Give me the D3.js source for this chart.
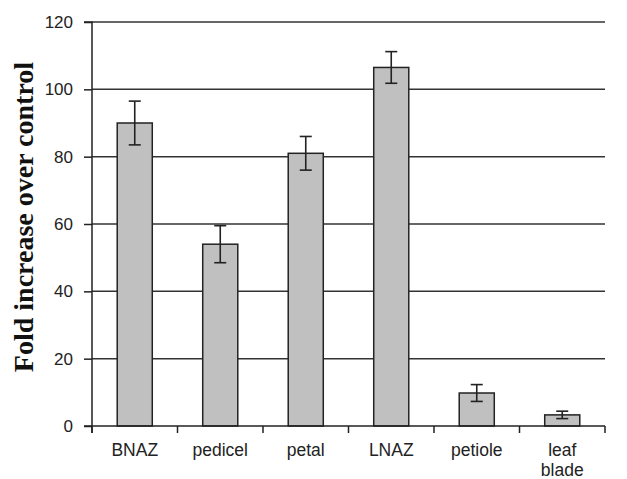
<!DOCTYPE html>
<html><head><meta charset="utf-8">
<script src="https://cdn.jsdelivr.net/npm/d3@7"></script>
<style>body{margin:0;background:#fff}svg{display:block}</style>
</head><body>
<script>
const categories = ["BNAZ", "pedicel", "petal", "LNAZ", "petiole", "leaf blade"];
const values = [90, 54, 81, 106.5, 9.8, 3.3];
const errors = [6.5, 5.5, 5, 4.7, 2.5, 1.1];
const yTicks = [0, 20, 40, 60, 80, 100, 120];
const yTitle = "Fold increase over control";

const W = 627, H = 479;
const m = {left: 92, right: 22, top: 22, bottom: 53};
const svg = d3.select("body").append("svg").attr("width", W).attr("height", H);

const x = d3.scaleBand().domain(categories).range([m.left, W - m.right]).paddingInner(0.59).paddingOuter(0.295);
const xb = d3.scaleBand().domain(categories).range([m.left, W - m.right]);
const y = d3.scaleLinear().domain([0, 120]).range([H - m.bottom, m.top]);

// gridlines
svg.append("g").selectAll("line").data(yTicks.filter(d => d > 0)).join("line")
  .attr("x1", m.left).attr("x2", W - m.right)
  .attr("y1", d => y(d)).attr("y2", d => y(d))
  .attr("stroke", "#333").attr("stroke-width", 1.5);

// bars
svg.append("g").selectAll("rect").data(categories).join("rect")
  .attr("x", d => x(d)).attr("width", x.bandwidth())
  .attr("y", (d, i) => y(values[i])).attr("height", (d, i) => y(0) - y(values[i]))
  .attr("fill", "#c0c0c0").attr("stroke", "#222").attr("stroke-width", 1.5);

// error bars
const eb = svg.append("g").attr("stroke", "#222").attr("stroke-width", 1.6);
categories.forEach((c, i) => {
  const cx = x(c) + x.bandwidth() / 2;
  eb.append("line").attr("x1", cx).attr("x2", cx).attr("y1", y(values[i] + errors[i])).attr("y2", y(values[i] - errors[i]));
  eb.append("line").attr("x1", cx - 6).attr("x2", cx + 6).attr("y1", y(values[i] + errors[i])).attr("y2", y(values[i] + errors[i]));
  eb.append("line").attr("x1", cx - 6).attr("x2", cx + 6).attr("y1", y(values[i] - errors[i])).attr("y2", y(values[i] - errors[i]));
});

// y axis
const ya = svg.append("g").attr("transform", `translate(${m.left},0)`)
  .call(d3.axisLeft(y).tickValues(yTicks).tickSize(8).tickPadding(11));
ya.select(".domain").attr("stroke", "#222").attr("stroke-width", 1.5).attr("d", `M-8,${y(120)}H0V${y(0) + 7}`);
ya.selectAll(".tick line").attr("stroke", "#222").attr("stroke-width", 1.5);
ya.selectAll("text").attr("font-family", "Liberation Sans, Arial, sans-serif").attr("font-size", 17).attr("fill", "#222");

// x axis
const xa = svg.append("g").attr("transform", `translate(0,${y(0)})`);
xa.append("line").attr("x1", m.left - 8).attr("x2", W - m.right).attr("y1", 0).attr("y2", 0).attr("stroke", "#222").attr("stroke-width", 1.5);
xa.selectAll(".tk").data(categories.concat(["end"])).join("line").attr("class", "tk")
  .attr("x1", (d, i) => m.left + i * xb.step()).attr("x2", (d, i) => m.left + i * xb.step())
  .attr("y1", 0).attr("y2", 7).attr("stroke", "#222").attr("stroke-width", 1.5);
categories.forEach(c => {
  const t = xa.append("text").attr("x", xb(c) + xb.bandwidth() / 2).attr("y", 30)
    .attr("text-anchor", "middle").attr("font-family", "Liberation Sans, Arial, sans-serif")
    .attr("font-size", 17.5).attr("fill", "#222");
  const parts = c.split(" ");
  parts.forEach((p, k) => t.append("tspan").attr("x", xb(c) + xb.bandwidth() / 2).attr("dy", k === 0 ? 0 : 19.5).text(p));
});

// y title
svg.append("text").attr("transform", `translate(33,217) rotate(-90)`)
  .attr("text-anchor", "middle").attr("font-family", "Liberation Serif, Times New Roman, serif")
  .attr("font-weight", "bold").attr("font-size", 28).attr("fill", "#111").text(yTitle);
</script>
</body></html>
